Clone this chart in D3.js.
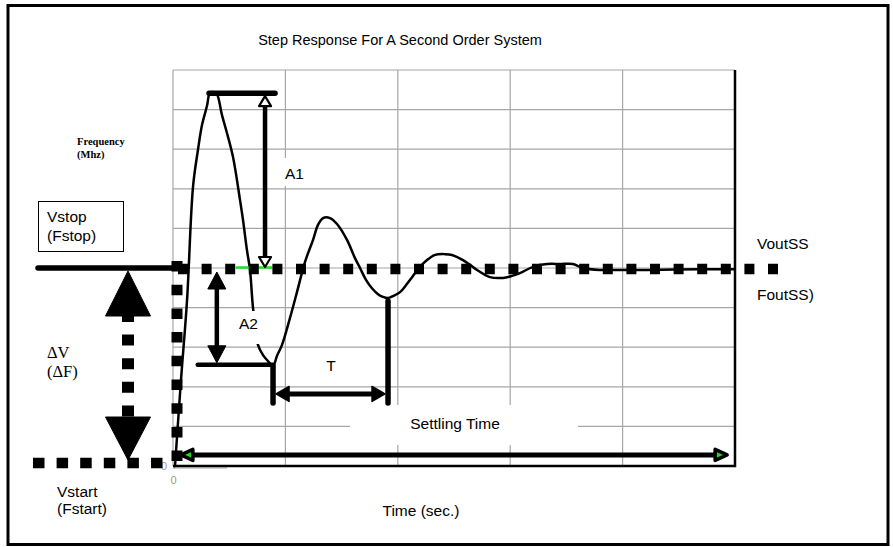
<!DOCTYPE html>
<html>
<head>
<meta charset="utf-8">
<script src="https://cdn.jsdelivr.net/npm/d3@7"></script>
<style>
  body { margin: 0; background: #fff; }
  svg { display: block; }
  text { font-family: "Liberation Sans", Arial, sans-serif; fill: #000; }
  .serif { font-family: "Liberation Serif", "Times New Roman", serif; }
</style>
</head>
<body>
<svg id="chart" width="893" height="547"></svg>
<script>
// grid divisions (time along x, level along y)
const timeTicks = [0, 1, 2, 3, 4, 5];
const levelTicks = [0, 1, 2, 3, 4, 5, 6, 7, 8, 9, 10];

// step response (time in divisions, level in divisions)
const time = [0.018, 0.071, 0.125, 0.178, 0.222, 0.258, 0.302, 0.329, 0.365, 0.391,
  0.436, 0.480, 0.534, 0.596, 0.623, 0.658, 0.685, 0.712, 0.756, 0.801,
  0.845, 0.890, 0.925, 0.970, 1.041, 1.103, 1.174, 1.246, 1.290, 1.335,
  1.397, 1.459, 1.548, 1.619, 1.664, 1.717, 1.770, 1.824, 1.868, 1.913,
  1.957, 2.020, 2.082, 2.135, 2.198, 2.260, 2.331, 2.420, 2.482, 2.580,
  2.642, 2.705, 2.820, 2.936, 3.016, 3.087, 3.203, 3.327, 3.443, 3.559,
  3.648, 3.799, 3.915, 4.244, 4.689, 5.0];
const response = [0, 2.17, 4.19, 7.05, 7.98, 8.61, 9.09, 9.42, 9.44, 9.39,
  8.86, 8.41, 7.80, 6.72, 6.21, 5.45, 4.95, 3.99, 3.06, 2.80,
  2.65, 2.53, 2.78, 3.06, 3.74, 4.39, 5.15, 5.71, 6.09, 6.26,
  6.26, 6.11, 5.71, 5.25, 5.0, 4.70, 4.49, 4.34, 4.27, 4.24,
  4.29, 4.39, 4.60, 4.80, 5.03, 5.20, 5.33, 5.35, 5.33, 5.20,
  5.08, 4.95, 4.77, 4.75, 4.80, 4.87, 5.03, 5.10, 5.10, 5.10,
  5.0, 4.95, 4.95, 4.95, 4.97, 4.97];

const vStart = 0;
const vSteady = 5;
const settleEnd = 4.93;

const svg = d3.select('#chart');

const x = d3.scaleLinear().domain([0, 5]).range([173, 735]);
const y = d3.scaleLinear().domain([0, 10]).range([466, 70]);

// outer frame
svg.append('rect')
  .attr('x', 8).attr('y', 5.5).attr('width', 880).attr('height', 539)
  .attr('fill', 'none').attr('stroke', '#000').attr('stroke-width', 3);

svg.append('text')
  .attr('x', 400).attr('y', 45)
  .attr('text-anchor', 'middle')
  .style('font-size', '14.5px')
  .text('Step Response For A Second Order System');

// grid
const grid = svg.append('g').attr('stroke', '#a6a6a6').attr('stroke-width', 1.2);
grid.selectAll('.vg').data(timeTicks).join('line')
  .attr('x1', d => x(d)).attr('x2', d => x(d))
  .attr('y1', y(10)).attr('y2', y(0));
grid.selectAll('.hg').data(levelTicks).join('line')
  .attr('x1', x(0)).attr('x2', x(5))
  .attr('y1', d => y(d)).attr('y2', d => y(d));

// stray grey segment by the origin
svg.append('line')
  .attr('x1', x(0)).attr('x2', x(0.48))
  .attr('y1', y(0) + 2).attr('y2', y(0) + 2)
  .attr('stroke', '#a6a6a6').attr('stroke-width', 1.2);

// right + bottom plot border
svg.append('path')
  .attr('d', `M${x(5)},${y(10)}V${y(0)}H${x(0)}`)
  .attr('fill', 'none').attr('stroke', '#000').attr('stroke-width', 2.5);

// zero labels from the axes
const axisB = svg.append('g').attr('transform', `translate(0,${y(0)})`)
  .call(d3.axisBottom(x).tickValues([0]).tickFormat(d3.format('d')).tickSize(0).tickPadding(10));
const axisL = svg.append('g').attr('transform', `translate(${x(0)},0)`)
  .call(d3.axisLeft(y).tickValues([0]).tickFormat(d3.format('d')).tickSize(0).tickPadding(6));
[axisB, axisL].forEach(a => {
  a.select('.domain').remove();
  a.selectAll('text').style('font-size', '11px').style('fill', '#999')
    .style('font-family', '"Liberation Sans", Arial, sans-serif');
});

// label boxes that blank out the grid
function whiteBox(x0, y0, w, h) {
  svg.append('rect').attr('x', x0).attr('y', y0).attr('width', w).attr('height', h).attr('fill', '#fff');
}
whiteBox(278, 158, 34, 28);
whiteBox(350, 405, 228, 40);

// response curve
const pts = time.map((t, i) => [t, response[i]]);
const line = d3.line().x(d => x(d[0])).y(d => y(d[1])).curve(d3.curveCatmullRom.alpha(0.5));
svg.append('path')
  .attr('d', line(pts))
  .attr('fill', 'none').attr('stroke', '#000').attr('stroke-width', 2.5)
  .attr('stroke-linejoin', 'round');

// A2 label box covers the curve
whiteBox(237, 311, 24, 33);

// key points taken from the series
const iPeak = d3.maxIndex(response);
const iLow1 = d3.minIndex(response.map((v, i) => time[i] > 0.5 && time[i] < 1.5 ? v : Infinity));
const iLow2 = d3.minIndex(response.map((v, i) => time[i] > 1.5 && time[i] < 2.5 ? v : Infinity));
const tPeak = time[iPeak], vPeak = response[iPeak];
const tLow1 = time[iLow1], vLow1 = response[iLow1];
const tLow2 = time[iLow2], vLow2 = response[iLow2];

// green trace on the steady level
svg.append('line')
  .attr('x1', 236).attr('x2', 272)
  .attr('y1', y(vSteady) - 0.5).attr('y2', y(vSteady) - 0.5)
  .attr('stroke', '#22dd22').attr('stroke-width', 2.5);

// Vstop thick level line
svg.append('line')
  .attr('x1', 38).attr('x2', x(0))
  .attr('y1', y(vSteady)).attr('y2', y(vSteady))
  .attr('stroke', '#000').attr('stroke-width', 5.5).attr('stroke-linecap', 'round');

// dotted square lines
function dotted(x1, y1, x2, y2, dash, w) {
  svg.append('line')
    .attr('x1', x1).attr('y1', y1).attr('x2', x2).attr('y2', y2)
    .attr('stroke', '#000').attr('stroke-width', w || 10.5)
    .attr('stroke-dasharray', dash);
}
dotted(178, y(vSteady) + 1, 779, y(vSteady) + 1, '10 13.6');
dotted(177, y(vSteady) - 7, 177, y(vStart), '10.5 13.2', 11);
dotted(33, y(vStart) - 3, 175, y(vStart) - 3, '11.5 12.1');

// helpers for arrowheads
function head(tx, ty, dir, len, half, fill, sw) {
  const p = d3.path();
  if (dir === 'up') { p.moveTo(tx, ty); p.lineTo(tx - half, ty + len); p.lineTo(tx + half, ty + len); }
  if (dir === 'down') { p.moveTo(tx, ty); p.lineTo(tx - half, ty - len); p.lineTo(tx + half, ty - len); }
  if (dir === 'left') { p.moveTo(tx, ty); p.lineTo(tx + len, ty - half); p.lineTo(tx + len, ty + half); }
  if (dir === 'right') { p.moveTo(tx, ty); p.lineTo(tx - len, ty - half); p.lineTo(tx - len, ty + half); }
  p.closePath();
  svg.append('path').attr('d', p.toString())
    .attr('fill', fill).attr('stroke', '#000').attr('stroke-width', sw || 1)
    .attr('stroke-linejoin', 'round');
}
function bar(x1, y1, x2, y2, w, cap) {
  svg.append('line')
    .attr('x1', x1).attr('y1', y1).attr('x2', x2).attr('y2', y2)
    .attr('stroke', '#000').attr('stroke-width', w).attr('stroke-linecap', cap || 'round');
}

// delta V arrow
const dvX = 128;
dotted(dvX, y(vSteady) + 43, dvX, y(vStart) - 49, '11 12.6', 12);
head(dvX, y(vSteady) + 3, 'up', 45, 22.5, '#000');
head(dvX, y(vStart) - 6, 'down', 43, 22.5, '#000');

// A1: overshoot
const a1X = x(tLow1) - 8;
bar(x(tPeak) - 5, y(vPeak) + 1, x(tLow1) + 2, y(vPeak) + 1, 5.5);
bar(a1X, y(vPeak) + 12, a1X, y(vSteady) - 10, 4.5, 'butt');
head(a1X, y(vPeak) + 4, 'up', 10, 6, '#fff', 2.2);
head(a1X, y(vSteady) - 1, 'down', 10, 6, '#fff', 2.2);

// A2: undershoot
const a2X = x(0.39);
bar(x(0.22), y(vLow1) - 1, x(tLow1), y(vLow1) - 1, 4.5);
bar(a2X, y(vSteady) + 16, a2X, y(vLow1) - 18, 4.5, 'butt');
head(a2X, y(vSteady) + 4, 'up', 17, 9, '#000');
head(a2X, y(vLow1) - 3, 'down', 17, 9, '#000');

// T: period
const tY = y(1.82);
bar(x(tLow1), y(vLow1), x(tLow1), tY + 9, 5.5);
bar(x(tLow2), y(vLow2) + 3, x(tLow2), tY + 9, 5.5);
bar(x(tLow1) + 12, tY, x(tLow2) - 12, tY, 5, 'butt');
head(x(tLow1) + 3, tY, 'left', 13, 7.5, '#000', 1.5);
head(x(tLow2) - 3, tY, 'right', 13, 7.5, '#000', 1.5);

// settling time arrow
const sY = y(0.28);
bar(x(0.07) + 8, sY, x(settleEnd) - 8, sY, 5, 'butt');
head(x(0.07), sY, 'left', 12, 5.5, '#1fdc1f', 3.5);
head(x(settleEnd), sY, 'right', 12, 5.5, '#1fdc1f', 3.5);

// Vstop box
svg.append('rect').attr('x', 38.5).attr('y', 201.5).attr('width', 85).attr('height', 50)
  .attr('fill', '#fff').attr('stroke', '#000').attr('stroke-width', 1);

// text labels
function label(tx, ty, str, opts) {
  const o = opts || {};
  const t = svg.append('text').attr('x', tx).attr('y', ty)
    .attr('text-anchor', o.anchor || 'start')
    .style('font-size', (o.size || 15.5) + 'px')
    .text(str);
  if (o.serif) t.attr('class', 'serif');
  if (o.bold) t.style('font-weight', 'bold');
  return t;
}
label(47, 222, 'Vstop');
label(47, 241, '(Fstop)');
label(77, 145, 'Frequency', { serif: true, bold: true, size: 10.5 });
label(77, 158, '(Mhz)', { serif: true, bold: true, size: 10.5 });
label(47, 358, '\u0394V', { serif: true, size: 16.5 });
label(47, 377, '(\u0394F)', { serif: true, size: 16.5 });
label(57, 497, 'Vstart');
label(57, 514, '(Fstart)');
label(285, 179, 'A1');
label(239, 329, 'A2');
label(331, 371, 'T', { anchor: 'middle' });
label(757, 249, 'VoutSS');
label(757, 300, 'FoutSS)');
label(455, 429, 'Settling Time', { anchor: 'middle' });
label(421, 516, 'Time (sec.)', { anchor: 'middle' });
</script>
</body>
</html>
